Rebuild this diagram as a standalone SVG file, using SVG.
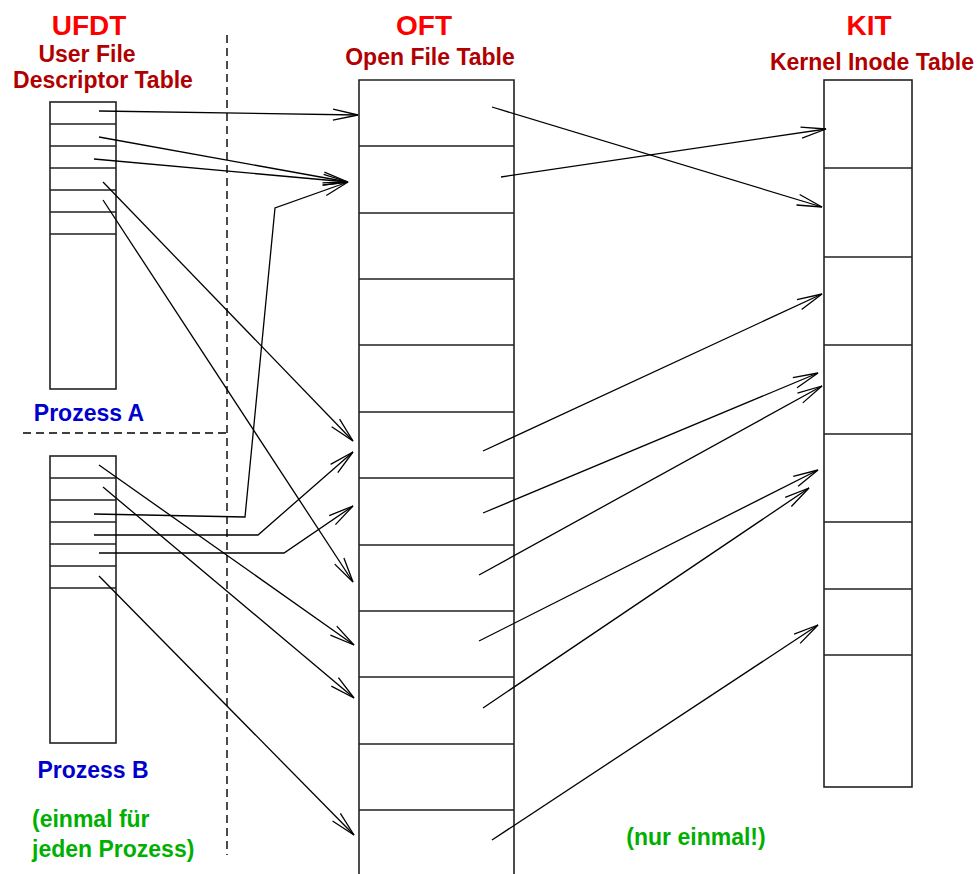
<svg xmlns="http://www.w3.org/2000/svg" width="979" height="874" viewBox="0 0 979 874">
<style>
.t{font-family:"Liberation Sans",Arial,sans-serif;font-weight:bold}
.h{font-size:28px;fill:#ff0000}
.s{font-size:23px;fill:#b00000}
.b{font-size:23px;fill:#0000cc}
.g{font-size:23px;fill:#00b000}
.tbl{fill:none;stroke:#222;stroke-width:1.6}
.c{fill:none;stroke:#000;stroke-width:1.3}
.d{fill:none;stroke:#000;stroke-width:1.4;stroke-dasharray:8 5}
</style>
<defs>
<marker id="ah" markerUnits="userSpaceOnUse" markerWidth="30" markerHeight="16" refX="0" refY="0" viewBox="-27 -8 30 16" orient="auto" overflow="visible">
<path d="M-25,-5.5 L0,0 L-25,5.5" fill="none" stroke="#000" stroke-width="1.3"/>
</marker>
</defs>
<rect width="979" height="874" fill="#fff"/>
<g id="labels">
<text class="t h" x="89" y="35" text-anchor="middle">UFDT</text>
<text class="t s" x="87" y="62" text-anchor="middle">User File</text>
<text class="t s" x="103" y="88" text-anchor="middle">Descriptor Table</text>
<text class="t h" x="424" y="35" text-anchor="middle">OFT</text>
<text class="t s" x="430" y="65" text-anchor="middle">Open File Table</text>
<text class="t h" x="869" y="35" text-anchor="middle">KIT</text>
<text class="t s" x="872" y="70" text-anchor="middle">Kernel Inode Table</text>
<text class="t b" x="89" y="421" text-anchor="middle">Prozess A</text>
<text class="t b" x="93" y="778" text-anchor="middle">Prozess B</text>
<text class="t g" x="32" y="827">(einmal für</text>
<text class="t g" x="32" y="857">jeden Prozess)</text>
<text class="t g" x="696" y="845" text-anchor="middle">(nur einmal!)</text>
</g>
<g id="separators">
<line class="d" x1="227" y1="35" x2="227" y2="855"/>
<line class="d" x1="23" y1="433" x2="227" y2="433"/>
</g>
<g id="ufdt-a">
<rect class="tbl" x="50" y="102" width="66" height="287"/>
<path class="tbl" d="M50,124H116M50,146H116M50,168H116M50,190H116M50,212H116M50,234H116"/>
</g>
<g id="ufdt-b">
<rect class="tbl" x="50" y="456" width="66" height="287"/>
<path class="tbl" d="M50,478H116M50,500H116M50,522H116M50,544H116M50,566H116M50,588H116"/>
</g>
<g id="oft">
<path class="tbl" d="M359,874V80H514V874"/>
<path class="tbl" d="M359,146H514M359,213H514M359,279H514M359,345H514M359,412H514M359,478H514M359,545H514M359,611H514M359,677H514M359,744H514M359,810H514"/>
</g>
<g id="kit">
<rect class="tbl" x="824" y="80" width="88" height="707"/>
<path class="tbl" d="M824,168H912M824,257H912M824,345H912M824,434H912M824,522H912M824,589H912M824,655H912"/>
</g>
<g id="connectors">
<polyline class="c" marker-end="url(#ah)" points="99,111 358,115"/>
<polyline class="c" marker-end="url(#ah)" points="99,137 348,182"/>
<polyline class="c" marker-end="url(#ah)" points="94,159 348,182"/>
<polyline class="c" marker-end="url(#ah)" points="103,182 353,441"/>
<polyline class="c" marker-end="url(#ah)" points="103,200 353,582"/>
<polyline class="c" marker-end="url(#ah)" points="99,465 354,645"/>
<polyline class="c" marker-end="url(#ah)" points="103,487 354,698"/>
<polyline class="c" marker-end="url(#ah)" points="94,514 245,517 275,208 348,182"/>
<polyline class="c" marker-end="url(#ah)" points="94,535 258,535 353,452"/>
<polyline class="c" marker-end="url(#ah)" points="99,553 284,553 353,506"/>
<polyline class="c" marker-end="url(#ah)" points="99,576 354,835"/>
<polyline class="c" marker-end="url(#ah)" points="492,107 822,207"/>
<polyline class="c" marker-end="url(#ah)" points="501,177 826,129"/>
<polyline class="c" marker-end="url(#ah)" points="483,451 822,294"/>
<polyline class="c" marker-end="url(#ah)" points="483,513 818,373"/>
<polyline class="c" marker-end="url(#ah)" points="479,575 822,386"/>
<polyline class="c" marker-end="url(#ah)" points="479,641 818,470"/>
<polyline class="c" marker-end="url(#ah)" points="483,708 809,488"/>
<polyline class="c" marker-end="url(#ah)" points="492,840 818,625"/>
</g>
</svg>
